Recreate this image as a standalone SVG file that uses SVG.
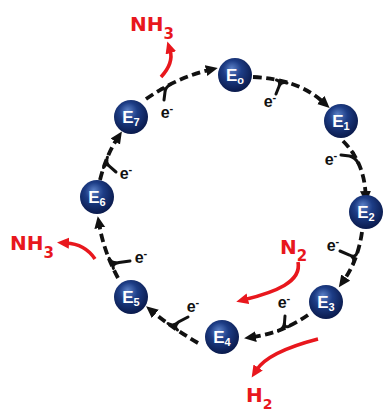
<svg xmlns="http://www.w3.org/2000/svg" width="384" height="413" viewBox="0 0 384 413">
<defs>
  <radialGradient id="sph" cx="0.45" cy="0.4" r="0.6" fx="0.4" fy="0.3">
    <stop offset="0" stop-color="#5b80c6"/>
    <stop offset="0.45" stop-color="#1d3d86"/>
    <stop offset="1" stop-color="#0a1a4c"/>
  </radialGradient>
  <marker id="ab" markerUnits="userSpaceOnUse" markerWidth="14" markerHeight="12" refX="3" refY="5.5" orient="auto">
    <path d="M0,0 L12,5.5 L0,11 z" fill="#111"/>
  </marker>
  <marker id="ar" markerUnits="userSpaceOnUse" markerWidth="14" markerHeight="12" refX="3" refY="5.5" orient="auto">
    <path d="M0,0 L12,5.5 L0,11 z" fill="#e8171d"/>
  </marker>
  <style>
    .dash{fill:none;stroke:#111;stroke-width:3.8;stroke-dasharray:8.5 4.5;marker-end:url(#ab)}
    .hook{fill:none;stroke:#111;stroke-width:3;stroke-linecap:round}
    .red{fill:none;stroke:#e8171d;stroke-width:3.6;marker-end:url(#ar)}
    .node circle{fill:url(#sph)}
    .node text{font-family:"Liberation Sans",Arial,sans-serif;font-weight:bold;fill:#fff;font-size:17px;text-anchor:middle}
    .el{font-family:"Liberation Sans",Arial,sans-serif;font-weight:bold;fill:#111;font-size:16px;text-anchor:middle}
    .lab{font-family:"DejaVu Sans",sans-serif;font-weight:bold;fill:#e8171d;font-size:20px}
  </style>
</defs>
<rect width="384" height="413" fill="#fff"/>

<g id="connectors">
  <path class="dash" d="M146,99 Q178,77 209,70"/>
  <path class="dash" d="M253,77 Q298,79 323,102"/>
  <path class="dash" d="M343,141 Q364,162 365.6,194"/>
  <path class="dash" d="M362,232 Q358,260 344,280"/>
  <path class="dash" d="M308,315 Q282,333 253,337"/>
  <path class="dash" d="M198,343 Q171,327 153,312"/>
  <path class="dash" d="M118,278 Q104,252 99.3,225"/>
  <path class="dash" d="M100,180 Q106,156 117,139"/>

  <path class="hook" d="M164,100 L165,92 Q165.5,87 171,84 M165,92 Q165.5,87 161,89"/>
  <path class="hook" d="M276,94 L279,86.5 Q281,81 287,83 M279,86.5 Q281,81 276.5,80"/>
  <path class="hook" d="M341,155 L349.5,156 Q355.3,157.5 358,163 M349.5,156 Q355.3,157.5 353,152.5"/>
  <path class="hook" d="M340,251 L349.5,255 Q355.5,258 353.5,264 M349.5,255 Q355.5,258 357,253"/>
  <path class="hook" d="M285,316 L284.5,322.5 Q284,328.3 278.5,331 M284.5,322.5 Q284,328.3 289,326.3"/>
  <path class="hook" d="M188,317 L178.5,322 Q173.3,327 168,323.5 M178.5,322 Q173.3,327 177.5,330"/>
  <path class="hook" d="M130,261 L119,262.5 Q111.5,263.8 109.2,258.3 M119,262.5 Q111.5,263.8 113.4,268.4"/>
  <path class="hook" d="M116,172 L109.6,166.4 Q105.3,162.8 107.4,157.2 M109.6,166.4 Q105.3,162.8 103.5,167.5"/>

  <path class="red" d="M161,77 Q174,63 170,50"/>
  <path class="red" d="M95,259 Q85,244 66,243"/>
  <path class="red" d="M298,262 C302,282 275,292 245,299.5"/>
  <path class="red" d="M318,339 Q268,352 256.5,370"/>
</g>

<g id="electrons">
  <text class="el" x="167" y="118">e<tspan dy="-6" font-size="11">-</tspan></text>
  <text class="el" x="270" y="107">e<tspan dy="-6" font-size="11">-</tspan></text>
  <text class="el" x="331" y="165">e<tspan dy="-6" font-size="11">-</tspan></text>
  <text class="el" x="333" y="251">e<tspan dy="-6" font-size="11">-</tspan></text>
  <text class="el" x="284" y="308">e<tspan dy="-6" font-size="11">-</tspan></text>
  <text class="el" x="193" y="312">e<tspan dy="-6" font-size="11">-</tspan></text>
  <text class="el" x="141" y="263">e<tspan dy="-6" font-size="11">-</tspan></text>
  <text class="el" x="126" y="179">e<tspan dy="-6" font-size="11">-</tspan></text>
</g>

<g id="labels">
  <text class="lab" x="130" y="31">NH<tspan font-size="15" dy="8">3</tspan></text>
  <text class="lab" x="10" y="250">NH<tspan font-size="15" dy="8">3</tspan></text>
  <text class="lab" x="280" y="254">N<tspan font-size="15" dy="7">2</tspan></text>
  <text class="lab" x="246" y="402">H<tspan font-size="14" dy="7">2</tspan></text>
</g>

<g id="E0" class="node"><circle cx="235" cy="75" r="17"/><text x="235" y="81">E<tspan font-size="11" dy="3">o</tspan></text></g>
<g id="E1" class="node"><circle cx="341" cy="121" r="17"/><text x="341" y="127">E<tspan font-size="11" dy="3">1</tspan></text></g>
<g id="E2" class="node"><circle cx="366" cy="212" r="17"/><text x="366" y="218">E<tspan font-size="11" dy="3">2</tspan></text></g>
<g id="E3" class="node"><circle cx="326" cy="302" r="17"/><text x="326" y="308">E<tspan font-size="11" dy="3">3</tspan></text></g>
<g id="E4" class="node"><circle cx="222" cy="337" r="17"/><text x="222" y="343">E<tspan font-size="11" dy="3">4</tspan></text></g>
<g id="E5" class="node"><circle cx="131" cy="297" r="17"/><text x="131" y="303">E<tspan font-size="11" dy="3">5</tspan></text></g>
<g id="E6" class="node"><circle cx="97" cy="197" r="17"/><text x="97" y="203">E<tspan font-size="11" dy="3">6</tspan></text></g>
<g id="E7" class="node"><circle cx="131" cy="117" r="17"/><text x="131" y="123">E<tspan font-size="11" dy="3">7</tspan></text></g>
</svg>
